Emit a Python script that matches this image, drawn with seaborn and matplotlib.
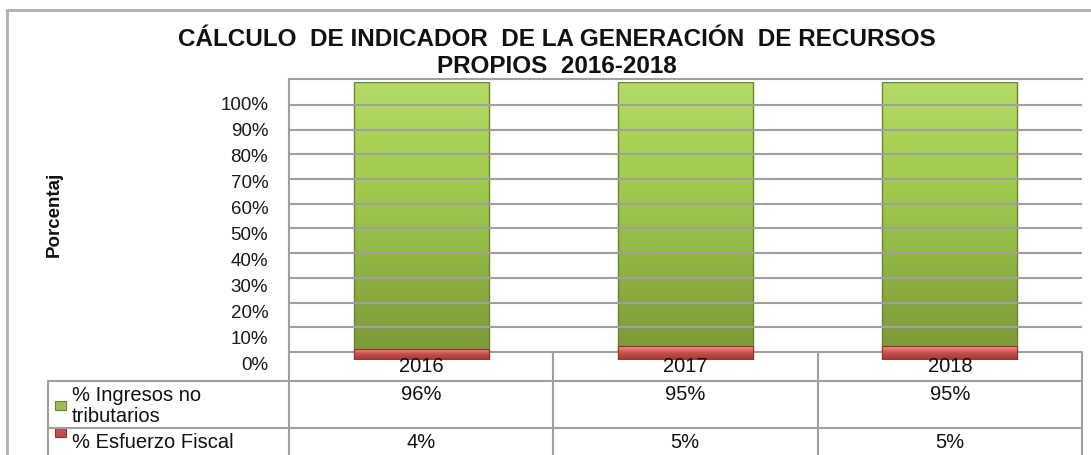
import numpy as np
import matplotlib
matplotlib.use("Agg")
import matplotlib.pyplot as plt
from matplotlib.lines import Line2D
from matplotlib.patches import Rectangle
from matplotlib.colors import LinearSegmentedColormap
import seaborn as sns

# ---------------- data ----------------
years = ["2016", "2017", "2018"]
ingresos_no_tributarios = [96, 95, 95]
esfuerzo_fiscal = [4, 5, 5]
series_labels = ["% Ingresos no\ntributarios", "% Esfuerzo Fiscal"]
yticks = [0, 10, 20, 30, 40, 50, 60, 70, 80, 90, 100]
title = "CÁLCULO  DE INDICADOR  DE LA GENERACIÓN  DE RECURSOS\nPROPIOS  2016-2018"
ylabel = "Porcentaj"

# ---------------- style ----------------
sns.set_theme(style="white")
plt.rcParams["font.family"] = ["Liberation Sans", "DejaVu Sans"]

W, H = 1091, 455
fig = plt.figure(figsize=(W / 100, H / 100), dpi=100)
fig.patch.set_facecolor("white")

def fx(px):
    return px / W

def fy(py):
    return 1 - py / H

GRID = "#a0a0a0"
GREEN = "#9bbb59"
RED = "#c0504d"

# bars (front plane)
ax_bar = fig.add_axes([fx(289), fy(360), fx(1082) - fx(289), fy(82) - fy(360)])
ax_bar.set_zorder(1)
totals = [a + b for a, b in zip(ingresos_no_tributarios, esfuerzo_fiscal)]
sns.barplot(x=years, y=totals, color=GREEN, width=0.51, errorbar=None,
            saturation=1, ax=ax_bar, edgecolor="#6a8630", linewidth=1.0)
n_green = len(ax_bar.patches)
sns.barplot(x=years, y=esfuerzo_fiscal, color=RED, width=0.51, errorbar=None,
            saturation=1, ax=ax_bar, edgecolor="#8e3330", linewidth=0.8)
ax_bar.set_xlim(-0.5, 2.5)
ax_bar.set_ylim(0, 100)
ax_bar.axis("off")
ax_bar.patch.set_visible(False)

green_cmap = LinearSegmentedColormap.from_list(
    "g", ["#7a9736", "#86a73d", "#93b946", "#a0c84e", "#a9d255", "#b5da6a"])
red_cmap = LinearSegmentedColormap.from_list(
    "r", ["#9a3633", "#b04441", "#c0504d", "#e8706d", "#f49593"])
grad = np.linspace(0, 1, 256).reshape(-1, 1)
for i, p in enumerate(ax_bar.patches):
    x0, y0 = p.get_x(), p.get_y()
    w, h = p.get_width(), p.get_height()
    cmap = green_cmap if i < n_green else red_cmap
    im = ax_bar.imshow(grad, cmap=cmap, origin="lower", aspect="auto",
                       extent=[x0, x0 + w, y0, y0 + h], zorder=p.get_zorder() + 0.01 * i,
                       interpolation="bilinear")
    im.set_clip_path(p)
    p.set_zorder(p.get_zorder() + 0.01 * i + 0.005)
    p.set_facecolor("none")
ax_bar.set_xlim(-0.5, 2.5)
ax_bar.set_ylim(0, 100)

# back wall with gridlines (drawn over the bars, as in the original)
ax_back = fig.add_axes([fx(289), fy(352), fx(1082) - fx(289), fy(79) - fy(352)])
ax_back.set_zorder(2)
ax_back.patch.set_visible(False)
ax_back.set_ylim(0, 110.5)
ax_back.set_xlim(0, 1)
ax_back.set_yticks(yticks[1:])
ax_back.set_xticks([])
ax_back.tick_params(left=False, labelleft=False)
ax_back.yaxis.grid(True, color=GRID, linewidth=1.5)
for s in ["left", "top"]:
    ax_back.spines[s].set_visible(True)
    ax_back.spines[s].set_color(GRID)
    ax_back.spines[s].set_linewidth(1.5)
ax_back.spines["right"].set_visible(False)
ax_back.spines["bottom"].set_visible(False)

# tick label axis (front plane)
ax_lab = fig.add_axes([fx(289), fy(363), fx(1082) - fx(289), fy(103) - fy(363)])
ax_lab.set_ylim(0, 100)
ax_lab.set_yticks(yticks)
ax_lab.set_yticklabels([f"{v}%" for v in yticks], fontsize=13.5, color="#1a1a1a")
ax_lab.tick_params(axis="y", length=0, pad=15)
ax_lab.set_xticks([])
ax_lab.patch.set_visible(False)
for s in ax_lab.spines.values():
    s.set_visible(False)

# title and y label
fig.text(fx(557), fy(53), title, ha="center", va="center", fontsize=17.5,
         fontweight="bold", color="#111111", linespacing=1.2)
fig.text(fx(54), fy(214), ylabel, rotation=90, ha="center", va="center",
         fontsize=13.5, fontweight="bold", color="#111111")

# data table
def hline(y, x0, x1, z=2):
    fig.add_artist(Line2D([fx(x0), fx(x1)], [fy(y), fy(y)], color=GRID, lw=1.5,
                          transform=fig.transFigure, zorder=z))

def vline(x, y0, y1, z=2):
    fig.add_artist(Line2D([fx(x), fx(x)], [fy(y0), fy(y1)], color=GRID, lw=1.5,
                          transform=fig.transFigure, zorder=z))

hline(352, 289, 1082, z=0.5)   # floor / 0% line, behind the bars
hline(381, 48, 1082)
hline(428, 48, 1082)
vline(48, 381, 460)
vline(289, 352, 460)
for xc in [553, 818, 1082]:
    vline(xc, 352, 460, z=0.5)

col_centers = [421, 685, 950]
for xc, yr, g, r in zip(col_centers, years, ingresos_no_tributarios, esfuerzo_fiscal):
    fig.text(fx(xc), fy(366), yr, ha="center", va="center", fontsize=14.5, color="#111111")
    fig.text(fx(xc), fy(395), f"{g}%", ha="center", va="center", fontsize=14.5, color="#111111")
    fig.text(fx(xc), fy(443), f"{r}%", ha="center", va="center", fontsize=14.5, color="#111111")

fig.text(fx(72), fy(406), series_labels[0], ha="left", va="center", fontsize=14.5,
         color="#111111", linespacing=1.1)
fig.text(fx(72), fy(442), series_labels[1], ha="left", va="center", fontsize=14.5,
         color="#111111")

# legend keys
fig.add_artist(Rectangle((fx(55), fy(410)), fx(11), fy(401) - fy(410), transform=fig.transFigure,
                         facecolor=GREEN, edgecolor="#6a8630", lw=0.8))
fig.add_artist(Rectangle((fx(55), fy(437)), fx(11), fy(428) - fy(437), transform=fig.transFigure,
                         facecolor=RED, edgecolor="#8e3330", lw=0.8))

# outer chart frame
fig.add_artist(Line2D([fx(7), fx(7)], [fy(10), fy(460)], color="#b0b0b0", lw=2,
                      transform=fig.transFigure))
fig.add_artist(Line2D([fx(7), fx(1095)], [fy(10), fy(10)], color="#b0b0b0", lw=2,
                      transform=fig.transFigure))

fig.savefig("out.png", dpi=100)
